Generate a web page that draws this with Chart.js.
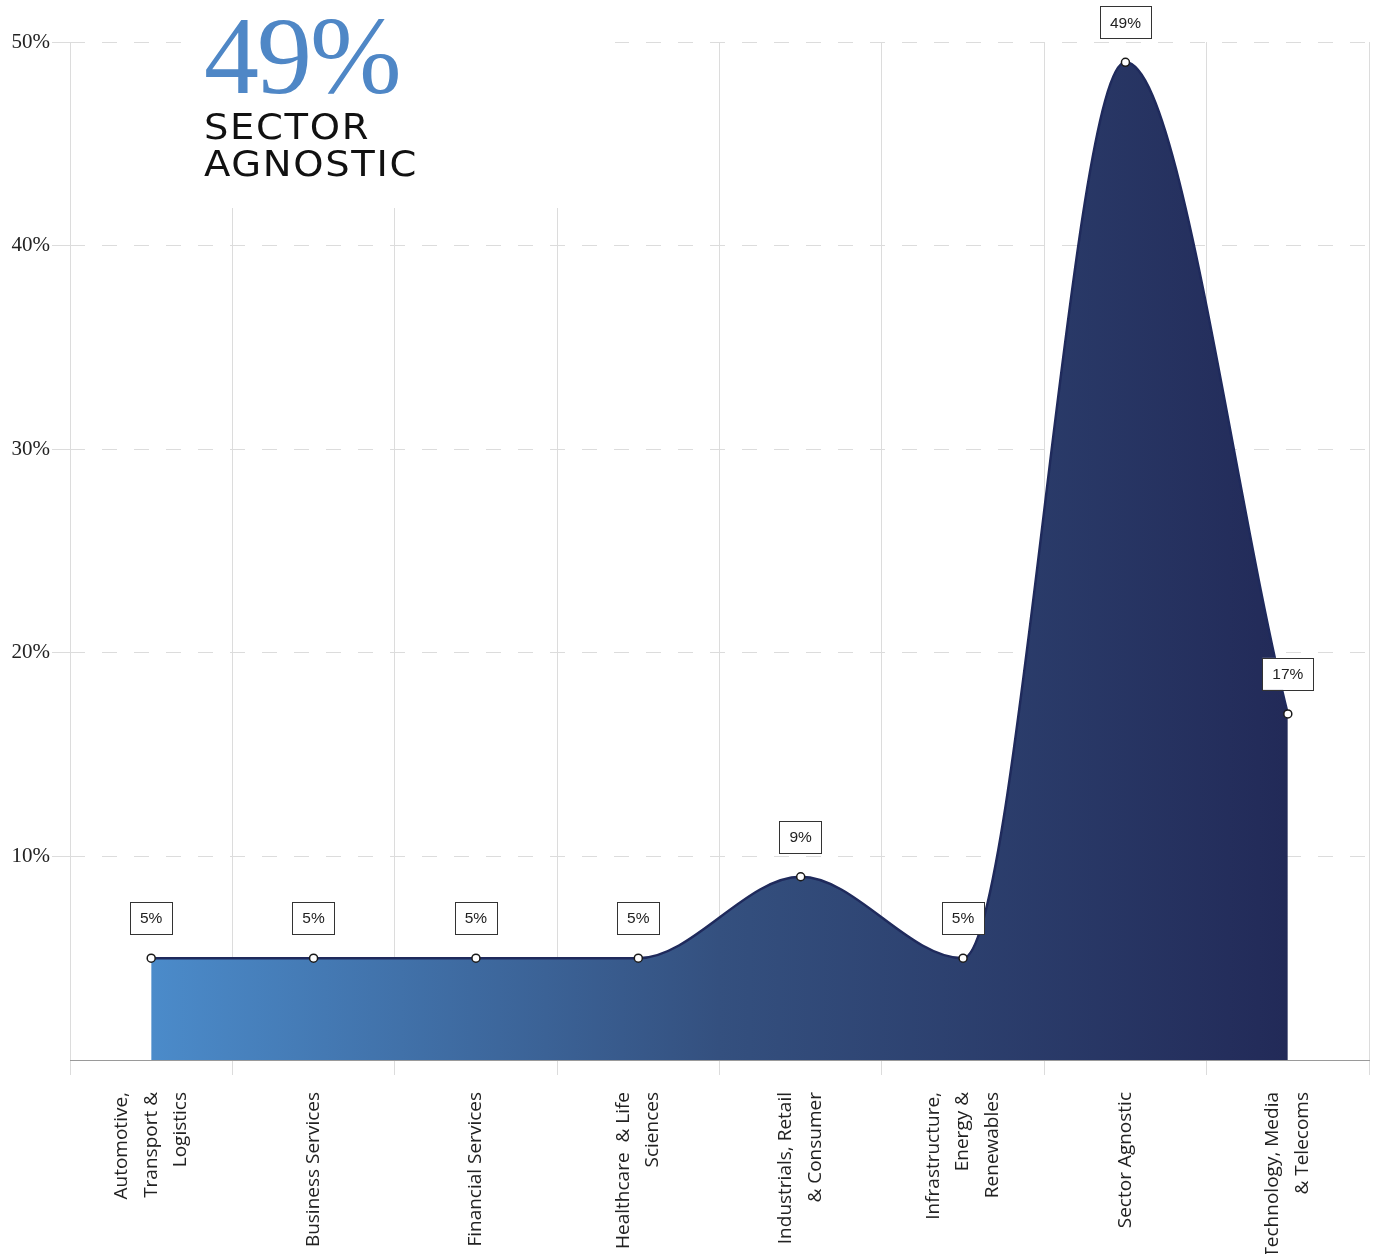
<!DOCTYPE html>
<html>
<head>
<meta charset="utf-8">
<script src="https://cdn.jsdelivr.net/npm/chart.js@4.4.1/dist/chart.umd.min.js"></script>
<style>
  html, body { margin: 0; padding: 0; background: #fff; }
  #wrap { position: relative; width: 1376px; height: 1254px; }
  #headline {
    position: absolute; left: 182px; top: 0; width: 433px; height: 208px;
    background: #fff; box-sizing: border-box; padding-left: 22px;
  }
  #headline .big {
    font-family: "Liberation Serif", serif; font-size: 110px; line-height: 1;
    color: #4f87c6; letter-spacing: -2px; margin-top: 1px; height: 108px;
  }
  #headline .sub {
    font-family: "DejaVu Sans", sans-serif; font-size: 35px; line-height: 37px;
    letter-spacing: 1.5px; color: #111;
    transform: scaleX(1.1); transform-origin: 0 0;
  }
</style>
</head>
<body>
<div id="wrap">
  <canvas id="chartSectores" width="1376" height="1254"></canvas>
  <div id="headline">
    <div class="big">49%</div>
    <div class="sub">SECTOR<br>AGNOSTIC</div>
  </div>
</div>
<script>
// sectores (etiquetas partidas en líneas) y porcentaje de cada uno
const sectores = [
  ["Automotive,", "Transport &", "Logistics"],
  ["Business Services"],
  ["Financial Services"],
  ["Healthcare  & Life", "Sciences"],
  ["Industrials, Retail", "& Consumer"],
  ["Infrastructure,", "Energy &", "Renewables"],
  ["Sector Agnostic"],
  ["Technology, Media", "& Telecoms"]
];
const porcentajes = [5, 5, 5, 5, 9, 5, 49, 17];
const ticksY = [10, 20, 30, 40, 50];

// recuadros con el valor encima de cada punto
const etiquetasValor = {
  id: "etiquetasValor",
  afterDatasetsDraw(chart) {
    const ctx = chart.ctx;
    const meta = chart.getDatasetMeta(0);
    ctx.save();
    ctx.font = "15.5px 'Liberation Sans', Arial, sans-serif";
    ctx.textAlign = "center";
    ctx.textBaseline = "middle";
    meta.data.forEach((pt, i) => {
      const txt = porcentajes[i] + "%";
      const w = ctx.measureText(txt).width + 20;
      const h = 32;
      const cx = pt.x;
      const cy = pt.y - 40;
      ctx.fillStyle = "#fff";
      ctx.fillRect(cx - w / 2, cy - h / 2, w, h);
      ctx.strokeStyle = "#333";
      ctx.lineWidth = 1;
      ctx.strokeRect(Math.round(cx - w / 2) + 0.5, Math.round(cy - h / 2) + 0.5, Math.round(w), h);
      ctx.fillStyle = "#222";
      ctx.fillText(txt, cx, cy + 1);
    });
    ctx.restore();
  }
};

// nombres de sector en vertical, centrados en su marca aunque tengan varias líneas
const nombresSector = {
  id: "nombresSector",
  afterDraw(chart) {
    const sx = chart.scales.x;
    const ctx = chart.ctx;
    const lh = 29.5;
    const y = sx.top + 15 + 17;
    ctx.save();
    ctx.font = "19px 'Open Sans', sans-serif";
    ctx.fillStyle = "#222";
    ctx.textAlign = "right";
    ctx.textBaseline = "middle";
    sectores.forEach((lineas, i) => {
      const x = sx.getPixelForTick(i);
      ctx.save();
      ctx.translate(x, y);
      ctx.rotate(-Math.PI / 2);
      lineas.forEach((t, j) => {
        ctx.fillText(t, 0, (j - (lineas.length - 1) / 2) * lh);
      });
      ctx.restore();
    });
    ctx.restore();
  }
};

// degradado horizontal del primer al último sector
function degradado(context) {
  const chart = context.chart;
  const area = chart.chartArea;
  const sx = chart.scales.x;
  if (!area || !sx) return "#3a5a90";
  let x0 = sx.getPixelForValue(0);
  let x1 = sx.getPixelForValue(porcentajes.length - 1);
  if (!isFinite(x0) || !isFinite(x1) || x0 === x1) { x0 = area.left; x1 = area.right; }
  const g = chart.ctx.createLinearGradient(x0, 0, x1, 0);
  g.addColorStop(0, "#4b8bca");
  g.addColorStop(0.5, "#34507f");
  g.addColorStop(1, "#222a58");
  return g;
}

new Chart(document.getElementById("chartSectores"), {
  type: "line",
  data: {
    labels: sectores.map(l => l.join(" ")),
    datasets: [{
      data: porcentajes,
      fill: "origin",
      backgroundColor: degradado,
      borderColor: "#1f2a5c",
      borderWidth: 2.5,
      cubicInterpolationMode: "monotone",
      pointRadius: 4,
      pointHoverRadius: 4,
      pointBackgroundColor: "#fff",
      pointBorderColor: "#1a1a1a",
      pointBorderWidth: 1.5
    }]
  },
  options: {
    responsive: false,
    animation: false,
    layout: { padding: { top: 42, right: 7, left: 0, bottom: 0 } },
    plugins: { legend: { display: false }, tooltip: { enabled: false } },
    scales: {
      x: {
        offset: true,
        grid: { color: "#dcdcdc", lineWidth: 1, offset: true, tickLength: 15 },
        border: { color: "#9a9a9a", width: 1 },
        ticks: { display: false, autoSkip: false },
        afterFit(scale) { scale.height = 194; }
      },
      y: {
        min: 0,
        max: 50,
        afterBuildTicks(scale) {
          scale.ticks = [0].concat(ticksY).map(v => ({ value: v }));
        },
        grid: {
          color: ctx => (ctx.tick && ctx.tick.value === 0 ? "rgba(0,0,0,0)" : "#dcdcdc"),
          lineWidth: 1,
          tickLength: 18,
          tickBorderDash: []
        },
        border: { display: false, dash: [15, 17] },
        ticks: {
          padding: 2,
          color: "#222",
          font: { family: "'Liberation Serif', serif", size: 21 },
          callback: v => (v === 0 ? "" : v + "%")
        },
        afterFit(scale) { scale.width = 70; }
      }
    }
  },
  plugins: [etiquetasValor, nombresSector]
});
</script>
</body>
</html>
